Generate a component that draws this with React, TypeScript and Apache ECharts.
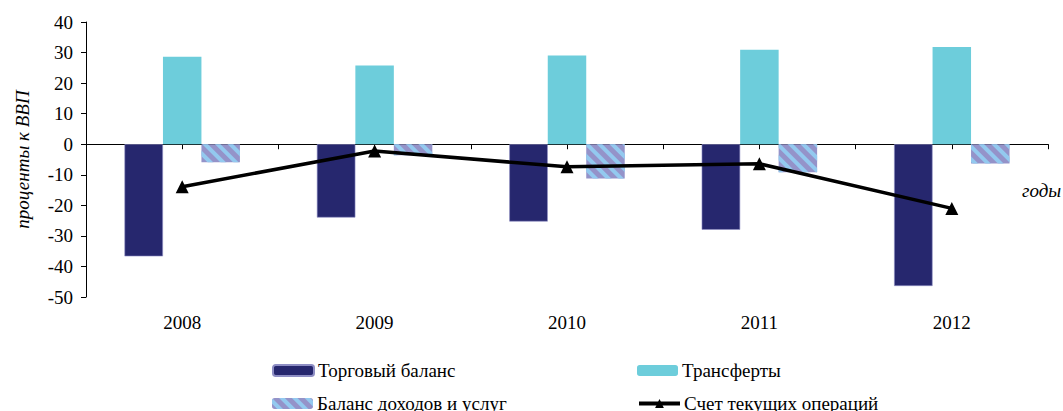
import React, { useEffect, useRef } from "react";
import * as echarts from "echarts";

const years = ["2008", "2009", "2010", "2011", "2012"];
const tradeBalance = [-36.7, -24.0, -25.3, -28.0, -46.4];
const transfers = [28.6, 25.8, 29.0, 30.9, 31.8];
const incomeServices = [-5.9, -3.6, -11.2, -9.2, -6.3];
const currentAccount = [-13.9, -2.2, -7.4, -6.4, -21.0];
const yTicks = { min: -50, max: 40, interval: 10 };
const minorCats = ["a", "b", "c", "d", "e", "f", "g", "h", "i", "j"];
const seriesNames = ["Торговый баланс", "Трансферты", "Баланс доходов и услуг", "Счет текущих операций"];

const FONT = "'Liberation Serif', 'Times New Roman', serif";

export default function App() {
  const ref = useRef<HTMLDivElement>(null);
  useEffect(() => {
    if (!ref.current) return;
    const chart = echarts.init(ref.current, null, { renderer: "svg" });
    const legendPos = [
      { left: 272, top: 361 },
      { left: 637, top: 361 },
      { left: 272, top: 394 },
      { left: 637, top: 394 },
    ];
    chart.setOption({
      animation: false,
      textStyle: { fontFamily: FONT, color: "#000" },
      grid: { left: 86, right: 15, top: 22, bottom: 114, containLabel: false },
      legend: seriesNames.map((n, i) => ({
        left: legendPos[i].left,
        top: legendPos[i].top,
        padding: 0,
        itemWidth: 41,
        itemHeight: 11,
        itemGap: 4,
        lineStyle: { width: 4 },
        textStyle: { fontFamily: FONT, fontSize: 19, color: "#000", padding: [0, 0, 0, -1] },
        data: [n],
      })),
      xAxis: [
        {
          type: "category",
          data: years,
          position: "bottom",
          axisLine: { show: false, onZero: false },
          axisTick: { show: false },
          axisLabel: { fontFamily: FONT, fontSize: 19, color: "#000", margin: 16 },
        },
        {
          type: "category",
          data: minorCats,
          position: "bottom",
          axisLine: { show: true, onZero: true, lineStyle: { color: "#000", width: 1 } },
          axisTick: { show: true, length: 5, lineStyle: { color: "#000" } },
          axisLabel: { show: false },
        },
      ],
      yAxis: {
        type: "value",
        min: yTicks.min,
        max: yTicks.max,
        interval: yTicks.interval,
        name: "проценты к ВВП",
        nameLocation: "middle",
        nameRotate: 90,
        nameGap: 54,
        nameTextStyle: { fontFamily: FONT, fontSize: 19, fontStyle: "italic", color: "#000" },
        axisLine: { show: true, lineStyle: { color: "#000" } },
        axisTick: { show: true, length: 5, lineStyle: { color: "#000" } },
        splitLine: { show: false },
        axisLabel: { fontFamily: FONT, fontSize: 19, color: "#000", margin: 13 },
      },
      graphic: [
        {
          type: "text",
          left: 1022,
          top: 181,
          style: { text: "годы", font: `italic 19px ${FONT}`, fill: "#000" },
        },
      ],
      series: [
        {
          name: seriesNames[0],
          type: "bar",
          data: tradeBalance,
          barGap: "0%",
          barCategoryGap: "40%",
          itemStyle: { color: "#26276e", borderColor: "#8e8ec4", borderWidth: 0.6 },
        },
        {
          name: seriesNames[1],
          type: "bar",
          data: transfers,
          itemStyle: { color: "#6dcddb" },
        },
        {
          name: seriesNames[2],
          type: "bar",
          data: incomeServices,
          itemStyle: {
            color: "#9493c9",
            decal: {
              symbol: "rect",
              symbolSize: 1,
              color: "#93c9ef",
              dashArrayX: [1, 0],
              dashArrayY: [4, 5],
              rotation: Math.PI / 4,
            },
          },
        },
        {
          name: seriesNames[3],
          type: "line",
          data: currentAccount,
          symbol: "triangle",
          symbolSize: 13,
          lineStyle: { color: "#000", width: 3.5 },
          itemStyle: { color: "#000" },
          z: 5,
        },
      ],
    });
    return () => chart.dispose();
  }, []);
  return (
    <div
      ref={ref}
      style={{ position: "fixed", left: 0, top: 0, width: 1063, height: 411, background: "#fff" }}
    />
  );
}
